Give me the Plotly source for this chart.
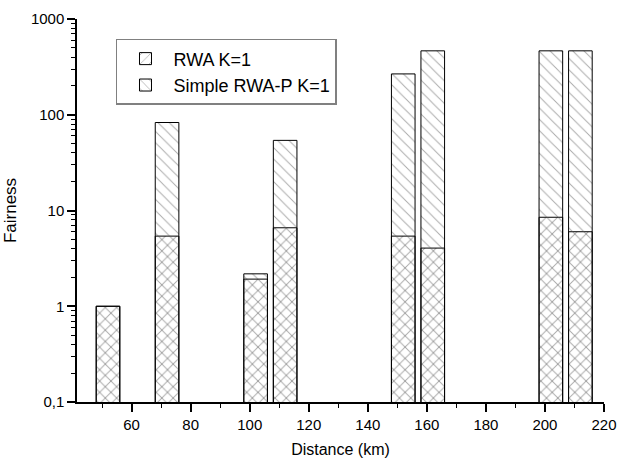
import plotly.graph_objects as go

distance = [52, 72, 102, 112, 152, 162, 202, 212]
rwa_k1 = [1.0, 5.4, 1.92, 6.6, 5.4, 4.05, 8.5, 6.0]
simple_rwa_p_k1 = [1.0, 83, 2.18, 54, 267, 465, 465, 465]

y_major = [0.1, 1, 10, 100, 1000]
y_major_text = ["0,1", "1", "10", "100", "1000"]

font_family = "Liberation Sans, Arial, sans-serif"
hatch_color = "#555555"

fig = go.Figure()
fig.add_trace(go.Bar(
    x=distance, y=rwa_k1, name="RWA K=1", width=8,
    marker=dict(color="rgba(0,0,0,0)", line=dict(color="black", width=1),
                pattern=dict(shape="/", fgcolor=hatch_color, bgcolor="rgba(0,0,0,0)",
                             size=8, solidity=0.12)),
))
fig.add_trace(go.Bar(
    x=distance, y=simple_rwa_p_k1, name="Simple RWA-P K=1", width=8,
    marker=dict(color="rgba(0,0,0,0)", line=dict(color="black", width=1),
                pattern=dict(shape="\\", fgcolor=hatch_color, bgcolor="rgba(0,0,0,0)",
                             size=8, solidity=0.12)),
))

fig.update_layout(
    template="simple_white",
    width=618, height=461,
    margin=dict(l=77, r=14, t=19, b=59, autoexpand=False),
    barmode="overlay",
    plot_bgcolor="white", paper_bgcolor="white",
    font=dict(family=font_family, color="black", size=15),
    showlegend=True,
    legend=dict(x=0.074, y=0.948, xanchor="left", yanchor="top",
                bordercolor="#808080", borderwidth=1.5, bgcolor="white",
                font=dict(size=18), tracegroupgap=0, itemwidth=46),
    xaxis=dict(
        range=[41.5, 220], tickmode="linear", tick0=60, dtick=20,
        ticks="outside", ticklen=8, tickwidth=1.5, tickcolor="black",
        showline=True, linecolor="black", linewidth=1.5, showgrid=False, zeroline=False,
        minor=dict(ticks="outside", ticklen=4, tickcolor="black", tickwidth=1.2,
                   tick0=50, dtick=10, showgrid=False),
        title=dict(text="Distance (km)", font=dict(size=16), standoff=12),
        tickfont=dict(size=15),
    ),
    yaxis=dict(
        type="log", range=[-1, 3], tickmode="array", tickvals=y_major, ticktext=y_major_text,
        ticks="outside", ticklen=8, tickwidth=1.5, tickcolor="black",
        showline=True, linecolor="black", linewidth=1.5, showgrid=False, zeroline=False,
        minor=dict(ticks="outside", ticklen=4, tickcolor="black", tickwidth=1,
                   dtick="D1", showgrid=False),
        title=dict(text="Fairness", font=dict(size=17), standoff=10),
        tickfont=dict(size=15),
    ),
)

fig.write_html("out.html", config={"displayModeBar": False},
               post_script="document.body.style.margin='0';")
